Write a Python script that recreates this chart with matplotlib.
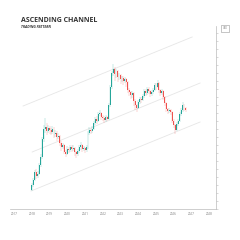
import pandas as pd
import matplotlib.pyplot as plt
import matplotlib.dates as mdates

# monthly candles, Jan 2018 .. Sep 2026
dates = pd.date_range("2018-01-01", periods=105, freq="MS")

opens = [19, 24, 29, 37, 33, 35, 44, 52, 70, 80,
         82, 78, 81, 79, 77, 80, 75, 76, 72, 73,
         66, 62, 64, 57, 55, 60, 59, 62, 60, 61,
         57, 55, 58, 62, 64, 60, 61, 59, 62, 76,
         79, 78, 80, 86, 90, 88, 95, 96, 92, 91,
         89, 92, 90, 104, 122, 136, 140, 135, 138, 132,
         134, 130, 131, 128, 130, 127, 119, 117, 114, 116,
         108, 104, 101, 107, 110, 109, 113, 118, 116, 120,
         118, 115, 117, 119, 124, 122, 126, 119, 116, 118,
         112, 106, 100, 98, 99, 97, 88, 84, 79, 85,
         88, 95, 99, 104, 101]
closes = [24, 29, 37, 33, 35, 44, 52, 70, 80, 82,
          78, 81, 79, 77, 80, 75, 76, 72, 73, 66,
          62, 64, 57, 55, 60, 59, 62, 60, 61, 57,
          55, 58, 62, 64, 60, 61, 59, 62, 76, 79,
          78, 80, 86, 90, 88, 95, 96, 92, 91, 89,
          92, 90, 104, 122, 136, 140, 135, 138, 132, 134,
          130, 131, 128, 130, 127, 119, 117, 114, 116, 108,
          104, 101, 107, 110, 109, 113, 118, 116, 120, 118,
          115, 117, 119, 124, 122, 126, 119, 116, 118, 112,
          106, 100, 98, 99, 97, 88, 84, 79, 85, 88,
          95, 99, 104, 101, 99]
highs = [26, 31, 39, 40, 38, 46, 55, 72, 84, 91,
         86, 84, 83, 81, 83, 82, 79, 78, 76, 74,
         68, 66, 65, 59, 63, 62, 64, 64, 64, 62,
         58, 60, 64, 67, 65, 63, 62, 64, 78, 82,
         81, 83, 88, 92, 93, 97, 99, 97, 94, 93,
         94, 93, 106, 124, 138, 145, 142, 140, 139, 136,
         135, 133, 133, 132, 131, 128, 121, 118, 118, 117,
         110, 105, 109, 112, 112, 115, 120, 120, 122, 122,
         119, 119, 121, 126, 126, 129, 127, 120, 120, 119,
         113, 107, 101, 101, 100, 98, 90, 85, 87, 90,
         97, 101, 107, 105, 102]
lows = [18, 22, 28, 30, 31, 34, 42, 50, 67, 76,
        74, 76, 75, 74, 75, 71, 72, 68, 70, 63,
        58, 60, 55, 52, 54, 56, 57, 57, 58, 53,
        51, 53, 56, 59, 57, 58, 56, 57, 60, 74,
        75, 76, 79, 84, 85, 87, 93, 89, 88, 86,
        87, 88, 89, 102, 120, 133, 128, 131, 127, 129,
        125, 127, 124, 126, 122, 116, 113, 110, 111, 103,
        99, 97, 100, 105, 106, 108, 111, 113, 114, 115,
        112, 113, 115, 118, 119, 121, 116, 113, 114, 109,
        103, 97, 95, 96, 94, 86, 81, 75, 78, 83,
        87, 93, 97, 98, 97]

# channel lines: start/end date and price
channel_dates = [["2017-12-15", "2027-06-28"],
                 ["2018-01-08", "2027-06-28"],
                 ["2017-07-05", "2027-01-15"]]
channel_prices = [[18, 87], [57, 126], [103, 172]]

UP = "#26a69a"
DOWN = "#ef5350"

fig = plt.figure(figsize=(2.4, 2.4), dpi=100)
plt.rcParams['font.family'] = ['Open Sans', 'DejaVu Sans']
ax = fig.add_axes([10 / 240, 31 / 240, 206 / 240, 183 / 240])

for (d0, d1), (p0, p1) in zip(channel_dates, channel_prices):
    ax.plot(pd.to_datetime([d0, d1]), [p0, p1], color="#e6e6e6", lw=0.6, zorder=1)

for d, o, h, l, c in zip(dates, opens, highs, lows, closes):
    col = UP if c >= o else DOWN
    ax.vlines(d, l, h, color=col, lw=0.35, alpha=0.5, zorder=2)
    ax.bar(d, abs(c - o) if c != o else 0.6, bottom=min(o, c), width=18,
           color=col, linewidth=0, zorder=3)

ax.set_xlim(pd.Timestamp("2016-10-08"), pd.Timestamp("2028-05-20"))
ax.set_ylim(0, 183)

ax.xaxis.set_major_locator(mdates.YearLocator())
ax.xaxis.set_major_formatter(mdates.DateFormatter("%Y"))
ax.tick_params(axis="x", labelsize=2.2, colors="#777777", length=0, pad=2)

ax.yaxis.tick_right()
ax.set_yticks(range(0, 184, 8))
ax.tick_params(axis="y", length=1.2, width=0.4, colors="#bbbbbb", labelright=False)

for s in ["top", "left"]:
    ax.spines[s].set_visible(False)
for s in ["bottom", "right"]:
    ax.spines[s].set_color("#bbbbbb")
    ax.spines[s].set_linewidth(0.5)

fig.text(21 / 240, 1 - 16.5 / 240, "ASCENDING CHANNEL", fontsize=5.0, fontweight="bold",
         color="#333333", va="top")
fig.text(21 / 240, 1 - 25.5 / 240, "TRADING PATTERN", fontsize=2.5, fontweight="bold",
         fontstyle="italic", color="#333333", va="top")
fig.text(225 / 240, 1 - 28 / 240, "USD", fontsize=1.8, color="#777777", ha="center", va="center",
         bbox=dict(boxstyle="square,pad=0.6", fc="white", ec="#999999", lw=0.4))

fig.savefig("out.png", dpi=100)
